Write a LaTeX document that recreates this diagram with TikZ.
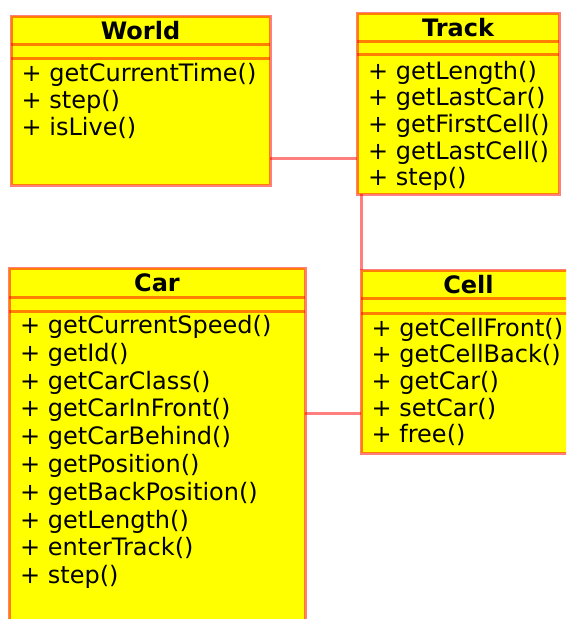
\documentclass[tikz,border=0pt]{standalone}
\usepackage{fontspec}
\setmainfont{DejaVu Sans}
\definecolor{umlfill}{RGB}{255,255,0}
\definecolor{umlline}{RGB}{255,0,0}
\newcommand\umlfont{\fontsize{24pt}{28pt}\selectfont}
\begin{document}
\begin{tikzpicture}[x=1pt, y=-1pt,
  classbox/.style={draw=umlline, draw opacity=0.5, line width=3pt, fill=umlfill, anchor=north west, inner sep=0pt, outer sep=0pt},
  divider/.style={draw=umlline, draw opacity=0.5, line width=3pt},
  assoc/.style={draw=umlline, draw opacity=0.5, line width=3pt},
  classname/.style={font=\umlfont\bfseries, anchor=base, inner sep=0pt},
  member/.style={font=\umlfont, anchor=base west, inner sep=0pt}]
\useasboundingbox (0,0) rectangle (566,619);
\clip (0,0) rectangle (566,619);
% class boxes
\node[classbox, minimum width=259pt, minimum height=169pt] (world) at (11,16) {};
\node[classbox, minimum width=202pt, minimum height=181pt] (track) at (357,13) {};
\node[classbox, minimum width=296pt, minimum height=365pt] (car) at (9,268) {};
\node[classbox, minimum width=215pt, minimum height=183pt] (cell) at (361,270) {};
% compartments
\foreach \c/\a/\b in {world/28.5/42.5, track/28.5/41, car/29/43, cell/28.5/43} {
  \draw[divider] ([yshift=-\a pt]\c.north west) -- ([yshift=-\a pt]\c.north east);
  \draw[divider] ([yshift=-\b pt]\c.north west) -- ([yshift=-\b pt]\c.north east);
}
% class names
\node[classname] (world-name) at ([yshift=-23pt]world.north) {World};
\node[classname] (track-name) at ([yshift=-23pt]track.north) {Track};
\node[classname] (car-name) at ([yshift=-23pt]car.north) {Car};
\node[classname] (cell-name) at ([yshift=-23pt]cell.north) {Cell};
% operations
\foreach \m [count=\i] in {getCurrentTime(), step(), isLive()}
  \node[member] (world-m\i) at ([xshift=10.5pt, yshift={-65pt-(\i-1)*27pt}]world.north west) {+ \m};
\foreach \m [count=\i] in {getLength(), getLastCar(), getFirstCell(), getLastCell(), step()}
  \node[member] (track-m\i) at ([xshift=11pt, yshift={-66pt-(\i-1)*26.7pt}]track.north west) {+ \m};
\foreach \m [count=\i] in {getCurrentSpeed(), getId(), getCarClass(), getCarInFront(), getCarBehind(), getPosition(), getBackPosition(), getLength(), enterTrack(), step()}
  \node[member] (car-m\i) at ([xshift=11pt, yshift={-65.5pt-(\i-1)*27.8pt}]car.north west) {+ \m};
\foreach \m [count=\i] in {getCellFront(), getCellBack(), getCar(), setCar(), free()}
  \node[member] (cell-m\i) at ([xshift=10.5pt, yshift={-66pt-(\i-1)*26.7pt}]cell.north west) {+ \m};
% associations
\coordinate (world-link) at ([yshift=-57.5pt]world.east);
\coordinate (car-link) at ([yshift=37.5pt]car.east);
\draw[assoc] (world-link) -- (world-link -| track.west);
\draw[assoc] (track.south -| cell.north west) -- (cell.north west);
\draw[assoc] (car-link) -- (car-link -| cell.west);
\end{tikzpicture}
\end{document}
